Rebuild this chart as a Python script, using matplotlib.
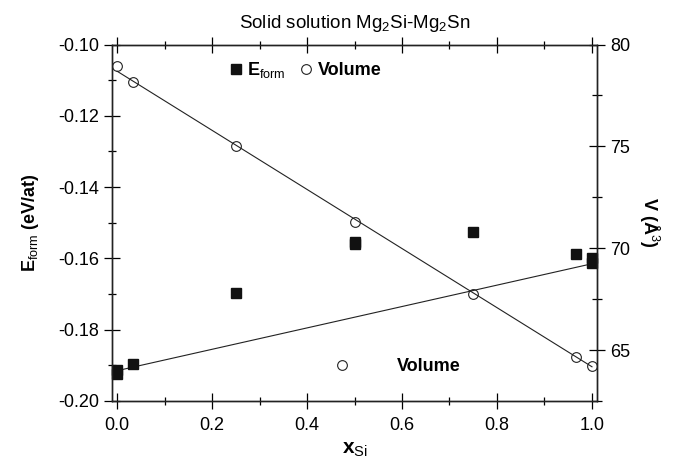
import matplotlib
matplotlib.use("Agg")
import matplotlib.pyplot as plt
from matplotlib.lines import Line2D
from matplotlib.ticker import MultipleLocator, FormatStrFormatter

plt.rcParams['font.family'] = ['Liberation Sans', 'DejaVu Sans']
plt.rcParams['mathtext.fontset'] = 'custom'
plt.rcParams['mathtext.rm'] = 'Liberation Sans'
plt.rcParams['mathtext.bf'] = 'Liberation Sans:bold'
plt.rcParams['mathtext.it'] = 'Liberation Sans:italic'

# ---- data ----
x_eform = [0.0, 0.0, 0.033, 0.25, 0.5, 0.5, 0.75, 0.967, 1.0, 1.0]
eform = [-0.1913, -0.1925, -0.1897, -0.1696, -0.1555, -0.1561, -0.1525, -0.1589, -0.1600, -0.1612]
eform_fit_x = [0.0, 1.0]
eform_fit = [-0.1915, -0.1615]

x_vol = [0.0, 0.033, 0.25, 0.5, 0.75, 0.967, 1.0]
vol = [78.93, 78.15, 75.03, 71.28, 67.75, 64.64, 64.23]
vol_fit_x = [0.0, 1.0]
vol_fit = [78.69, 64.18]

x_ticks = [0.0, 0.2, 0.4, 0.6, 0.8, 1.0]
v_ticks = [65, 70, 75, 80]

fig = plt.figure(figsize=(6.84, 4.69), dpi=100)
ax = fig.add_axes([0.1642, 0.145, 0.7082, 0.7601])
ax2 = ax.twinx()

# E_form
ax.plot(eform_fit_x, eform_fit, color='#222222', lw=0.8, zorder=2)
ax.plot(x_eform, eform, 's', color='#111111', ms=7, zorder=3, clip_on=False)

# Volume
ax2.plot(vol_fit_x, vol_fit, color='#222222', lw=0.8, zorder=2)
ax2.plot(x_vol, vol, 'o', mfc='none', mec='#222222', mew=0.8, ms=7, zorder=3, clip_on=False)

ax.set_xlim(-0.01, 1.01)
ax.set_ylim(-0.20, -0.10)
ax2.set_ylim(62.5, 80)

ax.set_xticks(x_ticks)
ax.xaxis.set_minor_locator(MultipleLocator(0.1))
ax.xaxis.set_major_formatter(FormatStrFormatter('%.1f'))
ax.yaxis.set_major_locator(MultipleLocator(0.02))
ax.yaxis.set_minor_locator(MultipleLocator(0.01))
ax.yaxis.set_major_formatter(FormatStrFormatter('%.2f'))
ax2.set_yticks(v_ticks)
ax2.yaxis.set_minor_locator(MultipleLocator(2.5))

ax.tick_params(axis='x', which='major', direction='inout', length=11, width=0.9,
               top=True, labelsize=13, pad=6)
ax.tick_params(axis='x', which='minor', direction='inout', length=6, width=0.9, top=True)
ax.tick_params(axis='y', which='major', direction='inout', length=11, width=0.9,
               right=False, labelsize=13, pad=4)
ax.tick_params(axis='y', which='minor', direction='inout', length=6, width=0.9, right=False)
ax2.tick_params(axis='y', which='major', direction='inout', length=12, width=0.9,
                labelsize=13, pad=4)
ax2.tick_params(axis='y', which='minor', direction='inout', length=7, width=0.9)

for a in (ax, ax2):
    for s in a.spines.values():
        s.set_linewidth(1.0)
        s.set_color('#222222')

ax.set_xlabel(r'$\mathbf{x}_{\mathrm{Si}}$', fontsize=15, labelpad=4)
ax.set_ylabel(r'$\mathbf{E}_{\mathrm{form}}$ (eV/at)', fontsize=13, fontweight='bold', labelpad=12)
ax2.set_ylabel(r'V ($\mathbf{\AA}^{3}$)', fontsize=13, fontweight='bold', rotation=270, labelpad=22)
ax.set_title(r'Solid solution Mg$_2$Si-Mg$_2$Sn', fontsize=13.5, pad=12)

# Legends
h_sq = Line2D([], [], ls='none', marker='s', color='#111111', ms=7)
h_ci = Line2D([], [], ls='none', marker='o', mfc='none', mec='#222222', mew=0.8, ms=7)
leg1 = ax2.legend([h_sq, h_ci], [r'$\mathbf{E}_{\mathrm{form}}$', 'Volume'], ncol=2,
                  loc='center left', bbox_to_anchor=(0.236, 0.928), frameon=False,
                  borderpad=0, borderaxespad=0, handlelength=1.0, handletextpad=0.15,
                  columnspacing=0.6, prop={'size': 13, 'weight': 'bold'})
ax2.add_artist(leg1)
leg2 = ax2.legend([h_ci], ['Volume'], loc='center left', bbox_to_anchor=(0.455, 0.097),
                  frameon=False, borderpad=0, borderaxespad=0, handlelength=1.0,
                  handletextpad=2.55, prop={'size': 13, 'weight': 'bold'})

fig.savefig('out.png', dpi=100)
